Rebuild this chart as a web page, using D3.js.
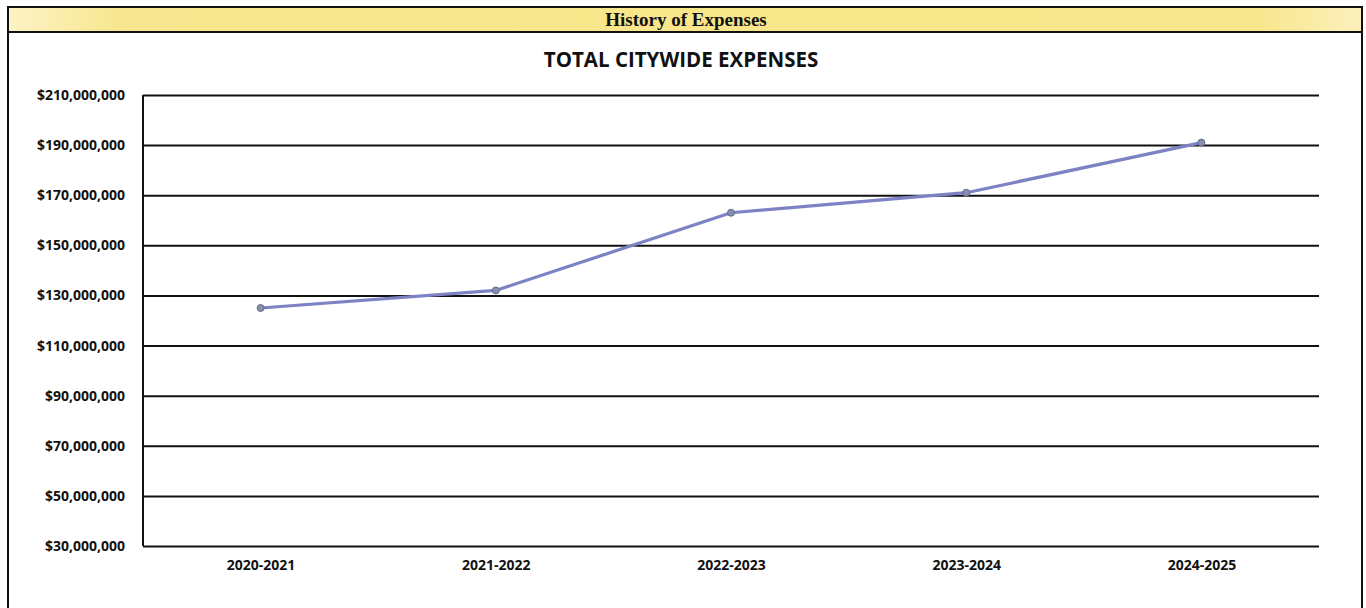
<!DOCTYPE html>
<html>
<head>
<meta charset="utf-8">
<script src="https://cdn.jsdelivr.net/npm/d3@7"></script>
<style>
  html, body { margin: 0; padding: 0; background: #fff; }
  svg { display: block; }
</style>
</head>
<body>
<svg id="chart" width="1366" height="608"></svg>
<script>
// Fiscal years and total citywide expenses (USD)
const years = ["2020-2021", "2021-2022", "2022-2023", "2023-2024", "2024-2025"];
const expenses = [125000000, 132000000, 163000000, 171000000, 191000000];
const yTicks = [30000000, 50000000, 70000000, 90000000, 110000000, 130000000, 150000000, 170000000, 190000000, 210000000];

const svg = d3.select("#chart");

// Header band gradient
const defs = svg.append("defs");
const grad = defs.append("linearGradient").attr("id", "hdr").attr("x1", "0").attr("x2", "1");
grad.append("stop").attr("offset", "0").attr("stop-color", "#fcf3c6");
grad.append("stop").attr("offset", "0.08").attr("stop-color", "#f8e790");
grad.append("stop").attr("offset", "0.5").attr("stop-color", "#f9e68a");
grad.append("stop").attr("offset", "0.92").attr("stop-color", "#f8e68c");
grad.append("stop").attr("offset", "1").attr("stop-color", "#fcf0bc");
defs.append("filter").attr("id", "soft")
  .append("feGaussianBlur").attr("stdDeviation", 0.7);

// Frame and header
svg.append("rect").attr("x", 8).attr("y", 7).attr("width", 1354).attr("height", 25)
  .attr("fill", "url(#hdr)");
svg.append("path")
  .attr("d", "M8,612 L8,7 L1362,7 L1362,612")
  .attr("fill", "none").attr("stroke", "#111").attr("stroke-width", 2);
svg.append("line").attr("x1", 8).attr("x2", 1362).attr("y1", 32).attr("y2", 32)
  .attr("stroke", "#111").attr("stroke-width", 2);
svg.append("text").attr("x", 686).attr("y", 25.5).attr("text-anchor", "middle")
  .attr("font-family", "Liberation Serif").attr("font-weight", "bold").attr("font-size", 19)
  .attr("fill", "#111").text("History of Expenses");

// Chart title
svg.append("text").attr("x", 681).attr("y", 67).attr("text-anchor", "middle")
  .attr("font-family", "Open Sans").attr("font-weight", "bold").attr("font-size", 20.5)
  .attr("fill", "#111").text("TOTAL CITYWIDE EXPENSES");

// Plot area
const plotL = 143, plotR = 1319, plotT = 95, plotB = 546;
const x = d3.scalePoint().domain(years).range([plotL, plotR]).padding(0.5);
const y = d3.scaleLinear().domain([30000000, 210000000]).range([plotB, plotT]);

// Horizontal gridlines / y axis
const yAxis = d3.axisLeft(y).tickValues(yTicks)
  .tickSize(-(plotR - plotL)).tickPadding(18)
  .tickFormat(d => "$" + d3.format(",")(d));
const gy = svg.append("g").attr("transform", `translate(${plotL},0)`).call(yAxis);
gy.select(".domain").attr("stroke", "#111").attr("stroke-width", 2)
  .attr("d", `M0,${plotT}V${plotB}`);
gy.selectAll(".tick line").attr("stroke", "#111").attr("stroke-width", 2);
gy.selectAll(".tick text")
  .attr("font-family", "Open Sans").attr("font-weight", "bold").attr("font-size", 14)
  .attr("fill", "#111");

// Category labels
const xAxis = d3.axisBottom(x).tickSize(0).tickPadding(14);
const gx = svg.append("g").attr("transform", `translate(0,${plotB})`).call(xAxis);
gx.select(".domain").remove();
gx.selectAll(".tick text")
  .attr("font-family", "Open Sans").attr("font-weight", "bold").attr("font-size", 14)
  .attr("fill", "#111");

// Expense line
const pts = years.map((yr, i) => [x(yr), y(expenses[i])]);
const line = d3.line();
svg.append("path").attr("d", line(pts))
  .attr("fill", "none").attr("stroke", "#7d82c4").attr("stroke-width", 3.2)
  .attr("stroke-linejoin", "round").attr("stroke-linecap", "round")
  .attr("filter", "url(#soft)");

// Point markers
svg.selectAll("circle.pt").data(pts).join("circle").attr("class", "pt")
  .attr("cx", d => d[0]).attr("cy", d => d[1]).attr("r", 3.5)
  .attr("fill", "#8a8fa8").attr("stroke", "#5d6a9a").attr("stroke-width", 1)
  .attr("filter", "url(#soft)");
</script>
</body>
</html>
